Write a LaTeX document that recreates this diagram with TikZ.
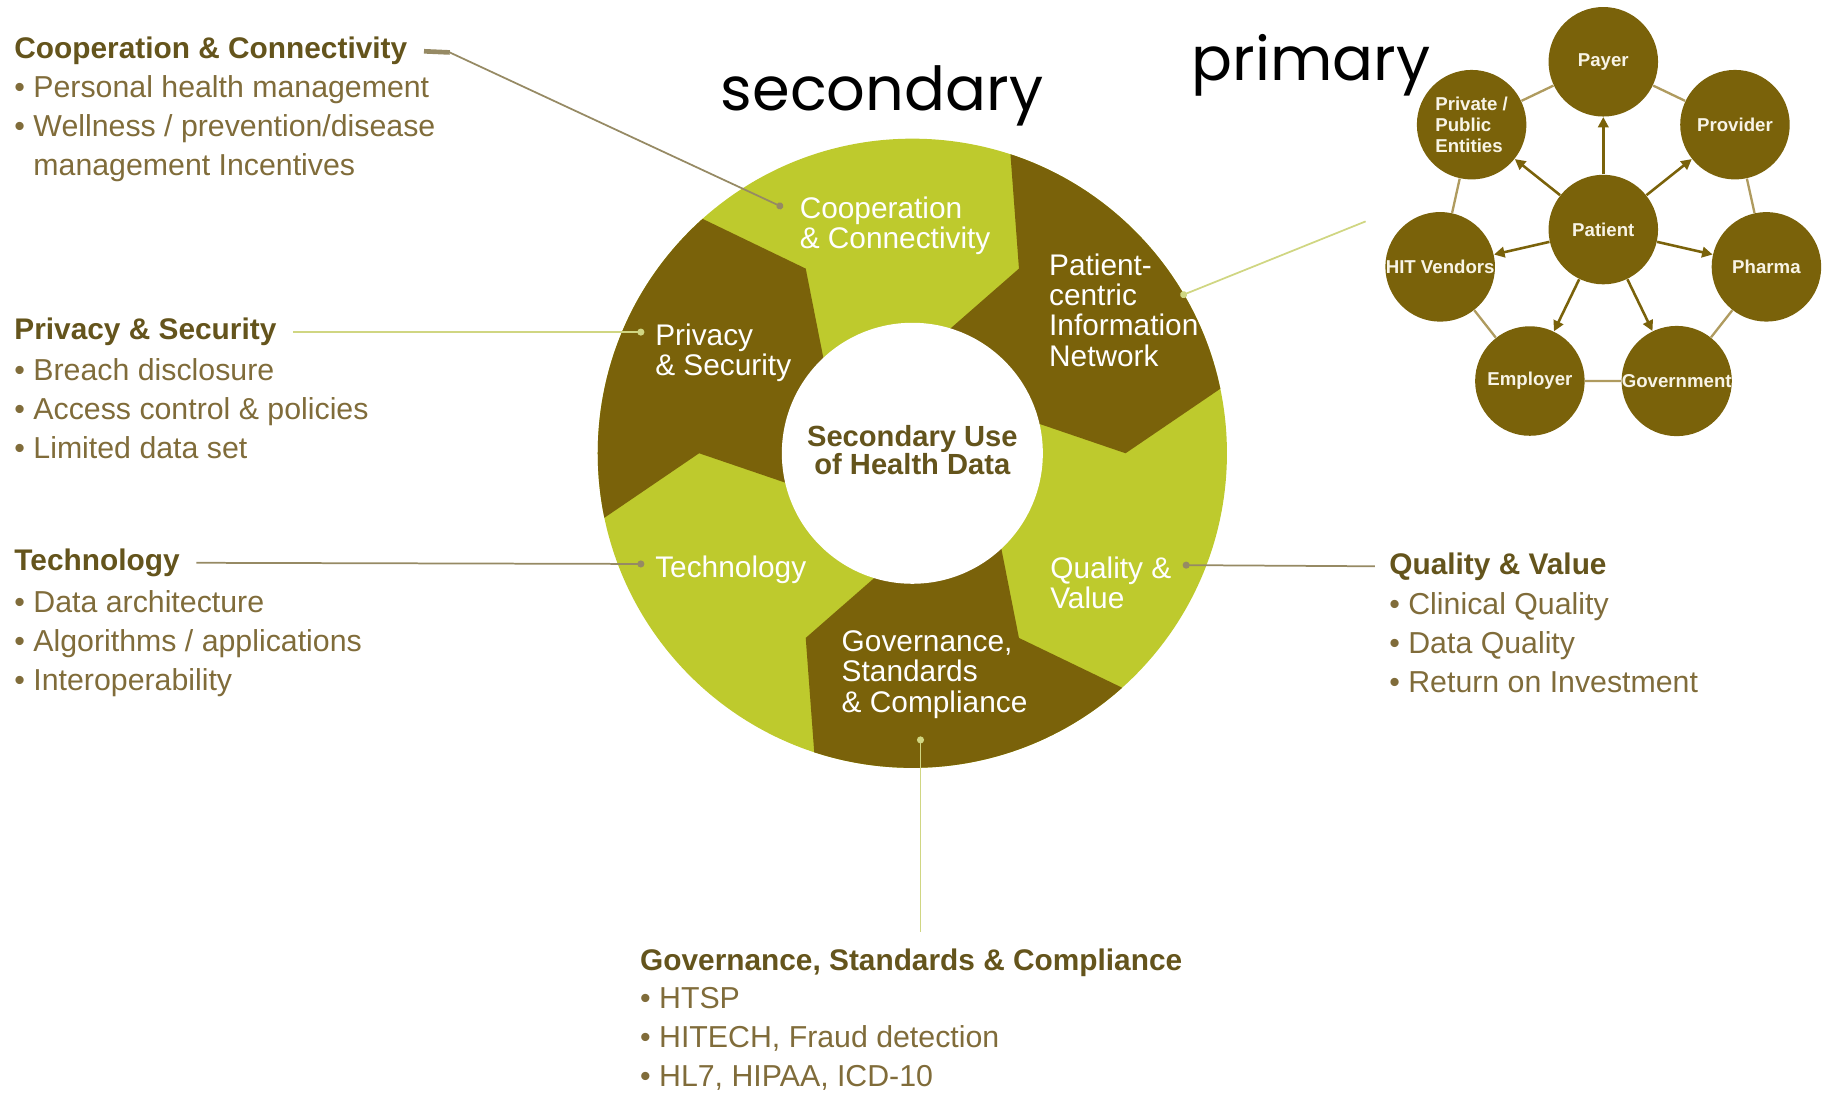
\documentclass[tikz,border=0pt]{standalone}
\usepackage{fontspec}
\setmainfont{Liberation Sans}
\newfontfamily\handfont{Poppins}
\usetikzlibrary{arrows.meta}

\definecolor{olivedark}{RGB}{122,98,10}
\definecolor{olivelight}{RGB}{190,202,45}
\definecolor{headtext}{RGB}{100,84,28}
\definecolor{bullettext}{RGB}{128,108,58}
\definecolor{greyline}{RGB}{150,138,100}
\definecolor{greenline}{RGB}{208,214,130}
\definecolor{netline}{RGB}{175,155,95}
\definecolor{cream}{RGB}{248,244,230}

\tikzset{
  headtxt/.style={anchor=west,inner sep=0pt,font=\fontsize{12.8}{14}\selectfont\bfseries,text=headtext},
  bulletlist/.style={anchor=north west,inner sep=0pt,align=left,font=\fontsize{13}{16.75}\selectfont,text=bullettext},
  ringlabel/.style={anchor=west,inner sep=0pt,align=left,font=\fontsize{12.8}{13}\selectfont,text=white},
  hubtxt/.style={inner sep=0pt,align=center,font=\fontsize{12.5}{12}\selectfont\bfseries,text=headtext},
  handtxt/.style={inner sep=0pt,font=\handfont\fontsize{26}{26}\selectfont,text=black},
  actor/.style={circle,fill=olivedark,minimum size=47pt,inner sep=0pt,align=left,font=\fontsize{8}{9}\selectfont\bfseries,text=cream},
  spoke/.style={draw=olivedark,line width=1.1pt,-{Triangle[length=4.5pt,width=4.5pt]}},
  netlink/.style={draw=netline,line width=1pt},
  pointer/.style={line width=0.75pt,-{Circle[length=3pt]}}
}

\begin{document}
\begin{tikzpicture}[x=0.5pt,y=0.5pt,yscale=-1,xscale=1]
    \useasboundingbox (0,0) rectangle (1568,939);

    %Shape: Ring [id:ring]
    \begin{scope}[shift={(783,389)},yscale=-1]
      \fill[olivelight] (0,0) circle (270);
      \begin{scope}
        \clip (0,0) circle (270);
        %Shape: Patient-centric segment
        \fill[olivedark] (0,0) -- (73:112) -- (60:183) -- (72:272) -- (72:345) -- (42:345) -- (12:345) -- (12:272) -- (0:183) -- (13:112) -- cycle;
        %Shape: Governance segment
        \fill[olivedark] (0,0) -- (-47:112) -- (-60:183) -- (-48:272) -- (-48:345) -- (-78:345) -- (-108:345) -- (-108:272) -- (-120:183) -- (-107:112) -- cycle;
        %Shape: Privacy segment
        \fill[olivedark] (0,0) -- (193:112) -- (180:183) -- (192:272) -- (192:345) -- (162:345) -- (132:345) -- (132:272) -- (120:183) -- (133:112) -- cycle;
      \end{scope}
      \fill[white] (0,0) circle (112);
    \end{scope}

    % Text Node
    \node[ringlabel] (coopLbl) at (686,194) {Cooperation\\\& Connectivity};
    % Text Node
    \node[ringlabel] (patLbl) at (900,266) {Patient-\\centric\\Information\\Network};
    % Text Node
    \node[ringlabel] (privLbl) at (562,303) {Privacy\\\& Security};
    % Text Node
    \node[ringlabel] (techLbl) at (562,489) {Technology};
    % Text Node
    \node[ringlabel] (qualLbl) at (901,500) {Quality \&\\Value};
    % Text Node
    \node[ringlabel] (govLbl) at (722,579) {Governance,\\Standards\\\& Compliance};
    % Text Node
    \node[hubtxt] (hub) at (783,386) {Secondary Use\\of Health Data};

    % Text Node
    \node[handtxt] (secLbl) at (757,82) {secondary};
    % Text Node
    \node[handtxt] (primLbl) at (1125,56) {primary};

    % Text Node
    \node[headtxt] (coopHead) at (12,44) {Cooperation \& Connectivity};
    \node[bulletlist] (coopList) at (12,64) {• Personal health management\\• Wellness / prevention/disease\\\hphantom{• }management Incentives};
    % Text Node
    \node[headtxt] (privHead) at (12,285) {Privacy \& Security};
    \node[bulletlist] (privList) at (12,307) {• Breach disclosure\\• Access control \& policies\\• Limited data set};
    % Text Node
    \node[headtxt] (techHead) at (12,483) {Technology};
    \node[bulletlist] (techList) at (12,506) {• Data architecture\\• Algorithms / applications\\• Interoperability};
    % Text Node
    \node[headtxt] (qualHead) at (1192,486) {Quality \& Value};
    \node[bulletlist] (qualList) at (1192,508) {• Clinical Quality\\• Data Quality\\• Return on Investment};
    % Text Node
    \node[headtxt] (govHead) at (549,826) {Governance, Standards \& Compliance};
    \node[bulletlist] (govList) at (549,847) {• HTSP\\• HITECH, Fraud detection\\• HL7, HIPAA, ICD-10};

    %Pointer ends
    \coordinate (coopBend) at (386,45);
    \coordinate (coopDot) at (672,178);
    \coordinate (privDot) at (553,285);
    \coordinate (techDot) at (553,484);
    \coordinate (qualDot) at (1015,485);
    \coordinate (govDot) at (790,632);
    \coordinate (patDot) at (1013,254);
    \coordinate (netEnd) at (1172,190);

    %Straight Lines
    \draw[greyline,line width=2pt] ([xshift=7pt]coopHead.east) -- (coopBend);
    \draw[pointer,greyline] (coopBend) -- (coopDot);
    \draw[pointer,greenline] ([xshift=7pt]privHead.east) -- (privDot);
    \draw[pointer,greyline] ([xshift=7pt]techHead.east) -- (techDot);
    \draw[pointer,greyline] ([xshift=-6pt]qualHead.west) -- (qualDot);
    \draw[pointer,greenline,shorten <=7pt] (govDot |- govHead.north) -- (govDot);
    \draw[pointer,greenline] (netEnd) -- (patDot);

    %Shape: Circles
    \node[actor] (payer) at (1376,53) {Payer};
    \node[actor] (provider) at (1489,107) {Provider};
    \node[actor] (pharma) at (1516,229) {Pharma};
    \node[actor] (govt) at (1439,327) {Government};
    \node[actor] (employer) at (1313,327) {Employer};
    \node[actor] (hit) at (1236,229) {HIT Vendors};
    \node[actor] (private) at (1263,107) {Private /\\Public\\Entities};
    \node[actor] (patient) at (1376,197) {Patient};

    %Straight Lines
    \draw[netlink] (payer) -- (provider) -- (pharma) -- (govt) -- (employer) -- (hit) -- (private) -- (payer);
    \draw[spoke] (patient) -- (payer);
    \draw[spoke] (patient) -- (provider);
    \draw[spoke] (patient) -- (pharma);
    \draw[spoke] (patient) -- (govt);
    \draw[spoke] (patient) -- (employer);
    \draw[spoke] (patient) -- (hit);
    \draw[spoke] (patient) -- (private);

\end{tikzpicture}
\end{document}
